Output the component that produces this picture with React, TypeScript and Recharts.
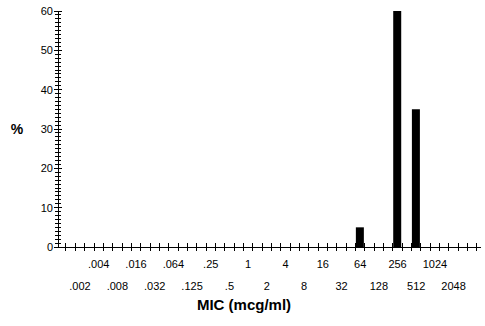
import { BarChart, Bar, XAxis, YAxis } from "recharts"

// MIC categories (log2 steps), one slot each
const micLabels = [
  ".002", ".004", ".008", ".016", ".032", ".064", ".125", ".25", ".5", "1",
  "2", "4", "8", "16", "32", "64", "128", "256", "512", "1024", "2048",
]
// % of isolates at each MIC
const percentValues = [0, 0, 0, 0, 0, 0, 0, 0, 0, 0, 0, 0, 0, 0, 0, 5, 0, 60, 35, 0, 0]
const yLabels = [0, 10, 20, 30, 40, 50, 60]

const chartData = micLabels.map((label, i) => ({ idx: i, label, pct: percentValues[i] }))

// tick marks sit between the category slots, labels on the slots themselves
const xMarks = Array.from({ length: 45 }, (_, k) => -0.75 + k * 0.5)
const xTicks = [...xMarks, ...micLabels.map((_, i) => i)].sort((a, b) => a - b)
const yTicks = Array.from({ length: 61 }, (_, i) => i)

const font = "'Liberation Sans', Arial, sans-serif"

const XTick = (props: any) => {
  const { x, y, payload } = props
  const v = payload.value
  if (Number.isInteger(v)) {
    const upper = v % 2 === 1
    return (
      <text x={x} y={y + (upper ? 21 : 43)} textAnchor="middle" fontSize={11} fontFamily={font} fill="#000">
        {micLabels[v]}
      </text>
    )
  }
  return <line x1={x} x2={x} y1={y - 4} y2={y + 4} stroke="#000" strokeWidth={1} shapeRendering="crispEdges" />
}

const YTick = (props: any) => {
  const { x, y, payload } = props
  const v = payload.value
  const major = yLabels.includes(v)
  return (
    <g>
      <line
        x1={x - (major ? 4 : 3)}
        x2={x + (major ? 4 : 3)}
        y1={y}
        y2={y}
        stroke="#000"
        strokeWidth={1}
        shapeRendering="crispEdges"
      />
      {major && (
        <text x={x - 5} y={y + 4} textAnchor="end" fontSize={11} fontFamily={font} fill="#000">
          {v}
        </text>
      )}
    </g>
  )
}

export default function App() {
  return (
    <div style={{ position: "absolute", left: 0, top: 0, background: "#fff" }}>
      <BarChart
        width={485}
        height={326}
        data={chartData}
        margin={{ top: 11, right: 4, left: 0, bottom: 0 }}
        barSize={8}
      >
        <XAxis
          dataKey="idx"
          type="number"
          domain={[-1.178, 21.467]}
          allowDataOverflow
          ticks={xTicks}
          interval={0}
          tick={<XTick />}
          tickLine={false}
          tickSize={0}
          tickMargin={0}
          height={79}
          axisLine={{ stroke: "#000", strokeWidth: 1, shapeRendering: "crispEdges" }}
          label={{
            content: (p: any) => (
              <text
                x={p.viewBox.x + 186}
                y={p.viewBox.y + 63}
                textAnchor="middle"
                fontSize={15}
                fontWeight="bold"
                fontFamily={font}
                fill="#000"
              >
                MIC (mcg/ml)
              </text>
            ),
          }}
        />
        <YAxis
          type="number"
          domain={[0, 60]}
          allowDataOverflow
          ticks={yTicks}
          interval={0}
          tick={<YTick />}
          tickLine={false}
          tickSize={0}
          tickMargin={0}
          width={58}
          axisLine={{ stroke: "#000", strokeWidth: 1, shapeRendering: "crispEdges" }}
          label={{
            content: () => (
              <text x={17} y={134} textAnchor="middle" fontSize={14} fontWeight="bold" fontFamily={font} fill="#000">
                %
              </text>
            ),
          }}
        />
        <Bar dataKey="pct" fill="#000" isAnimationActive={false} />
      </BarChart>
    </div>
  )
}
